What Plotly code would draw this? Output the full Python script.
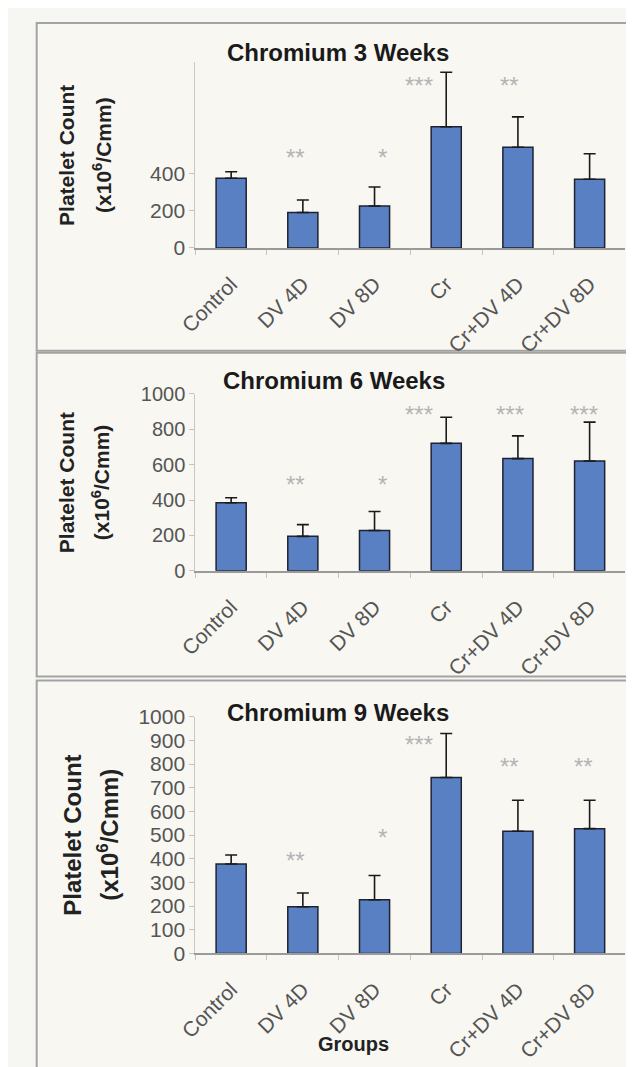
import plotly.graph_objects as go

# ---------------- data ----------------
categories = ["Control", "DV 4D", "DV 8D", "Cr", "Cr+DV 4D", "Cr+DV 8D"]

w3_mean = [375, 191, 226, 652, 542, 370]
w3_err = [35, 67, 102, 293, 163, 137]
w3_stars = ["", "**", "*", "***", "**", ""]
w3_star_y = [None, 510, 510, 894, 894, None]

w6_mean = [385, 195, 228, 720, 634, 620]
w6_err = [28, 66, 107, 147, 128, 220]
w6_stars = ["", "**", "*", "***", "***", "***"]
w6_star_y = [None, 508, 508, 904, 904, 904]

w9_mean = [378, 197, 227, 743, 516, 527]
w9_err = [38, 58, 102, 186, 131, 120]
w9_stars = ["", "**", "*", "***", "**", "**"]
w9_star_y = [None, 409, 505, 901, 805, 805]

titles = ["Chromium 3 Weeks", "Chromium 6 Weeks", "Chromium 9 Weeks"]
ytick_sets = [[0, 200, 400], [0, 200, 400, 600, 800, 1000],
              [0, 100, 200, 300, 400, 500, 600, 700, 800, 900, 1000]]

# ---------------- layout helpers ----------------
W, H = 634, 1067
FONT = "Liberation Sans, Arial, sans-serif"
BAR_FILL = "#5880c2"
BAR_LINE = "#1e2233"
BG = "#f8f7f2"

def px_x(x):
    return x / W

def px_y(y):
    return 1 - y / H

star_xshift = [0, -7, 8, -27, -8, -6]

panels = [
    dict(mean=w3_mean, err=w3_err, stars=w3_stars, star_y=w3_star_y,
         y0=233, y1=43, title_xy=(322, 33), ytitle_x=(42, 79), ytitle_size=21,
         tick_size=21, box=(3, 338)),
    dict(mean=w6_mean, err=w6_err, stars=w6_stars, star_y=w6_star_y,
         y0=563, y1=382, title_xy=(318, 368), ytitle_x=(42, 78), ytitle_size=21,
         tick_size=20, box=(340, 671)),
    dict(mean=w9_mean, err=w9_err, stars=w9_stars, star_y=w9_star_y,
         y0=954, y1=712, title_xy=(322, 708), ytitle_x=(48, 85), ytitle_size=24,
         tick_size=21, box=(675, 1075)),
]

fig = go.Figure()
annotations = []
shapes = []

x_dom = [px_x(175), px_x(617)]

for i, p in enumerate(panels):
    n = "" if i == 0 else str(i + 1)
    xa, ya = "x" + n, "y" + n
    fig.add_trace(go.Bar(
        x=categories, y=p["mean"], xaxis=xa, yaxis=ya, width=0.42,
        marker=dict(color=BAR_FILL, line=dict(color=BAR_LINE, width=1.5)),
        error_y=dict(type="data", symmetric=False, array=p["err"],
                     arrayminus=[0] * len(p["err"]), color="#1a1a1a",
                     thickness=1.6, width=6),
        showlegend=False, hoverinfo="skip",
    ))
    dom = [px_y(p["y0"]), px_y(p["y1"])]
    fig.update_layout(**{
        "xaxis" + n: dict(domain=x_dom, anchor=ya, type="category",
                          tickson="boundaries", ticks="outside", ticklen=5,
                          tickcolor="#c4c4c4", showline=True, linecolor="#9a9a9a",
                          linewidth=1.5, showgrid=False, tickangle=-45,
                          ticklabelstandoff=14,
                          tickfont=dict(family=FONT, size=21, color="#555555"),
                          range=[-0.5, 5.5]),
        "yaxis" + n: dict(domain=dom, anchor=xa, range=[0, 1000],
                          tickvals=ytick_sets[i], ticks="outside", ticklen=5,
                          tickcolor="#c4c4c4", showline=True, linecolor="#c8c8c8",
                          linewidth=1, showgrid=False, zeroline=False,
                          tickfont=dict(family=FONT, size=p["tick_size"], color="#555555")),
    })
    # title
    tx, ty = p["title_xy"]
    annotations.append(dict(text="<b>%s</b>" % titles[i], x=px_x(tx), y=px_y(ty),
                            xref="paper", yref="paper", showarrow=False,
                            xanchor="center", yanchor="middle",
                            font=dict(family=FONT, size=24, color="#1a1a1a")))
    # y-axis title (two lines)
    yc = (p["y0"] + p["y1"]) / 2
    for txt, xx in zip(["Platelet Count", "(x10<sup>6</sup>/Cmm)"], p["ytitle_x"]):
        annotations.append(dict(text="<b>%s</b>" % txt, x=px_x(xx), y=px_y(yc),
                                xref="paper", yref="paper", showarrow=False,
                                textangle=-90, xanchor="center", yanchor="middle",
                                font=dict(family=FONT, size=p["ytitle_size"], color="#222222")))
    # significance stars
    for j, (s, sy) in enumerate(zip(p["stars"], p["star_y"])):
        if s:
            annotations.append(dict(text=s, x=categories[j], y=sy, xref=xa, yref=ya,
                                    showarrow=False, xanchor="center", yanchor="middle",
                                    xshift=star_xshift[j], yshift=-4,
                                    font=dict(family=FONT, size=24, color="#b4b4b4")))
    # panel frame
    b0, b1 = p["box"]
    shapes.append(dict(type="rect", xref="paper", yref="paper",
                       x0=px_x(12), x1=px_x(645), y0=px_y(b1), y1=px_y(b0),
                       line=dict(color="#a3a3a3", width=2), fillcolor=BG, layer="below"))

annotations.append(dict(text="<b>Groups</b>", x=px_x(338), y=px_y(1047),
                        xref="paper", yref="paper", showarrow=False,
                        xanchor="center", yanchor="middle",
                        font=dict(family=FONT, size=20, color="#222222")))

fig.update_layout(width=W, height=H, autosize=False,
                  margin=dict(l=0, r=0, t=0, b=0),
                  paper_bgcolor="#f6f6f3", plot_bgcolor="rgba(0,0,0,0)",
                  annotations=annotations, shapes=shapes, bargap=0.58)

fig.write_html("out.html")
